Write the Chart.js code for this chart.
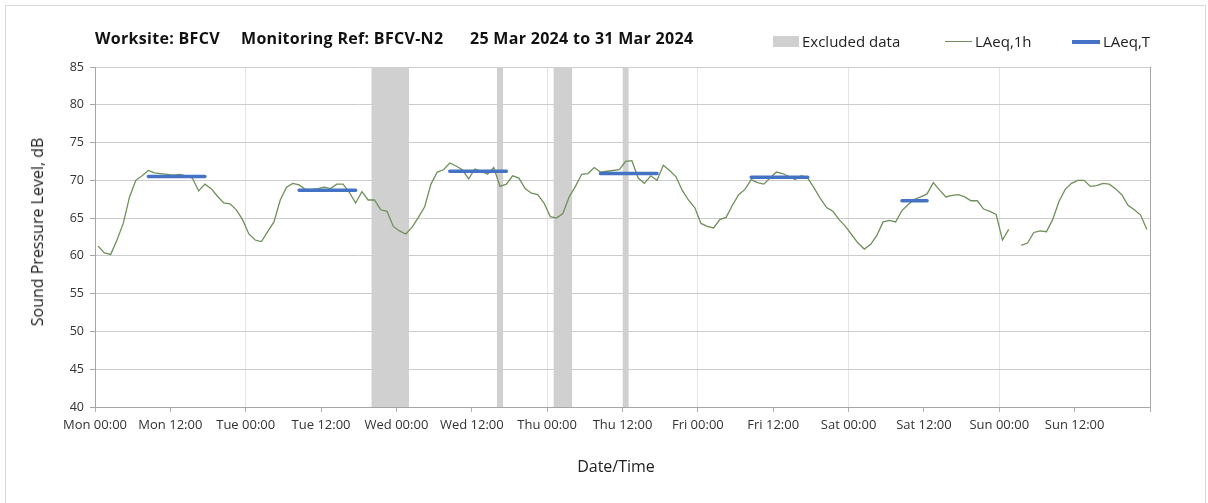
<!DOCTYPE html>
<html>
<head>
<meta charset="utf-8">
<script src="https://cdn.jsdelivr.net/npm/chart.js@4/dist/chart.umd.min.js"></script>
<style>
  html, body { margin: 0; padding: 0; background: #fff; }
  body { width: 1208px; height: 503px; position: relative; overflow: hidden; font-family: "Open Sans", sans-serif; }
  #frame { position: absolute; left: 5px; top: 5px; width: 1201px; height: 520px; border: 1px solid #d9d9d9; box-sizing: border-box; }
  #wrap { position: absolute; left: 0; top: 0; width: 1208px; height: 503px; }
  .t { position: absolute; top: 27px; font-weight: bold; font-size: 16px; letter-spacing: 0.3px; color: #111; white-space: nowrap; }
  .lg { position: absolute; top: 31px; font-size: 15px; color: #222; white-space: nowrap; }
  .sw { position: absolute; }
  #ytitle { position: absolute; left: 37px; top: 232px; transform: translate(-50%, -50%) rotate(-90deg); font-size: 16px; color: #222; white-space: nowrap; }
  #xtitle { position: absolute; left: 616px; top: 466px; transform: translate(-50%, -50%); font-size: 16px; color: #222; white-space: nowrap; }
</style>
</head>
<body>
<div id="frame"></div>
<div id="wrap"><canvas id="c" width="1208" height="503"></canvas></div>
<div class="t" style="left:95px">Worksite: BFCV</div>
<div class="t" style="left:241px">Monitoring Ref: BFCV-N2</div>
<div class="t" style="left:470px">25 Mar 2024 to 31 Mar 2024</div>
<div class="sw" style="left:773px;top:36px;width:26px;height:11px;background:#d0d0d0"></div>
<div class="lg" style="left:802px">Excluded data</div>
<div class="sw" style="left:945px;top:41px;width:27px;height:1.3px;background:#6f8f5a"></div>
<div class="lg" style="left:975px">LAeq,1h</div>
<div class="sw" style="left:1072px;top:40px;width:28px;height:3.5px;background:#4472c4"></div>
<div class="lg" style="left:1103px">LAeq,T</div>
<div id="ytitle">Sound Pressure Level, dB</div>
<div id="xtitle">Date/Time</div>
<script>
// Tick labels every 12 hours from Mon 25 Mar 2024 00:00
const xTickLabels = ['Mon 00:00','Mon 12:00','Tue 00:00','Tue 12:00','Wed 00:00','Wed 12:00','Thu 00:00','Thu 12:00','Fri 00:00','Fri 12:00','Sat 00:00','Sat 12:00','Sun 00:00','Sun 12:00'];
const yTicks = [40,45,50,55,60,65,70,75,80,85];

// Hourly LAeq,1h (hour 0 = Mon 00:00), null = no data
const laeq1h = [
  61.3, 60.4, 60.2, 62.1, 64.3, 67.8, 70.0, 70.6, 71.3, 71.0,
  70.9, 70.8, 70.7, 70.8, 70.6, 70.3, 68.6, 69.5, 68.9, 67.9,
  67.0, 66.9, 66.1, 64.8, 62.9, 62.1, 61.9, 63.2, 64.5, 67.4,
  69.1, 69.6, 69.4, 68.8, 68.8, 68.9, 69.1, 68.9, 69.5, 69.5,
  68.4, 67.0, 68.5, 67.4, 67.4, 66.1, 65.9, 63.9, 63.3, 62.9,
  63.8, 65.1, 66.5, 69.5, 71.1, 71.4, 72.3, 71.9, 71.4, 70.2,
  71.5, 71.2, 70.8, 71.7, 69.2, 69.5, 70.6, 70.3, 68.9, 68.3,
  68.1, 67.0, 65.2, 65.0, 65.6, 67.8, 69.2, 70.8, 70.9, 71.7,
  71.1, 71.2, 71.3, 71.4, 72.5, 72.6, 70.3, 69.6, 70.6, 70.0,
  72.0, 71.3, 70.5, 68.7, 67.4, 66.4, 64.3, 63.9, 63.7, 64.8,
  65.1, 66.7, 68.1, 68.8, 70.1, 69.7, 69.5, 70.3, 71.1, 70.9,
  70.5, 70.1, 70.6, 70.3, 69.0, 67.6, 66.4, 65.9, 64.8, 63.9,
  62.8, 61.7, 60.9, 61.5, 62.7, 64.5, 64.7, 64.5, 66.0, 66.8,
  67.5, 67.8, 68.2, 69.7, 68.7, 67.8, 68.0, 68.1, 67.8, 67.3,
  67.3, 66.2, 65.9, 65.5, 62.1, 63.5, null, 61.4, 61.7, 63.1,
  63.3, 63.2, 64.8, 67.2, 68.8, 69.6, 70.0, 70.0, 69.2, 69.3,
  69.6, 69.5, 68.9, 68.1, 66.7, 66.1, 65.4, 63.5
];

// LAeq,T periods (first and last hour index) and levels
const periodStart = [8, 32, 56, 80, 104, 128];
const periodEnd   = [17, 41, 65, 89, 113, 132];
const periodLevel = [70.5, 68.7, 71.2, 70.9, 70.4, 67.3];

// Excluded data periods (hour index start/end)
const exclStart = [44, 64, 73, 84];
const exclEnd   = [50, 65, 76, 85];

const Y_MIN = 40, Y_MAX = 85, HOURS = 168;

const lineData = laeq1h.map((v, i) => ({ x: i + 0.5, y: v }));
const tData = [];
periodStart.forEach((s, k) => {
  tData.push({ x: s + 0.5, y: periodLevel[k] });
  tData.push({ x: periodEnd[k] + 0.5, y: periodLevel[k] });
  tData.push({ x: periodEnd[k] + 0.75, y: null });
});

const datasets = [
  { label: 'LAeq,1h', data: lineData, borderColor: '#6f8f5a', borderWidth: 1.3, pointRadius: 0, spanGaps: false, tension: 0, order: 1 },
  { label: 'LAeq,T', data: tData, borderColor: '#4472c4', borderWidth: 3.5, pointRadius: 0, spanGaps: false, borderCapStyle: 'round', order: 0 }
];
exclStart.forEach((s, k) => {
  datasets.push({
    label: 'Excluded data', data: [{ x: s, y: Y_MAX }, { x: exclEnd[k], y: Y_MAX }],
    borderWidth: 0, borderColor: 'rgba(0,0,0,0)', backgroundColor: '#d0d0d0', fill: 'start', pointRadius: 0, order: 5
  });
});

const chart = new Chart(document.getElementById('c'), {
  type: 'line',
  data: { datasets },
  options: {
    responsive: false,
    animation: false,
    events: [],
    layout: { padding: { left: 0, top: 67, right: 58, bottom: 0 } },
    plugins: { legend: { display: false }, title: { display: false }, tooltip: { enabled: false } },
    scales: {
      x: {
        type: 'linear', min: 0, max: HOURS,
        afterFit: (s) => { s.height = 96; },
        afterBuildTicks: (s) => { s.ticks = Array.from({ length: HOURS / 12 + 1 }, (_, i) => ({ value: i * 12 })); },
        ticks: {
          autoSkip: false, maxRotation: 0, minRotation: 0, padding: 5,
          color: '#333', font: { family: 'Open Sans', size: 13 },
          callback: (v) => xTickLabels[v / 12] ?? ''
        },
        grid: {
          color: (ctx) => {
            const v = ctx.tick ? ctx.tick.value : 0;
            if (v === HOURS) return '#a6a6a6';
            return v % 24 === 0 ? '#e4e4e4' : 'rgba(0,0,0,0)';
          },
          tickColor: '#b0b0b0', tickLength: 5, lineWidth: 1
        },
        border: { color: '#a6a6a6', width: 1 }
      },
      y: {
        min: Y_MIN, max: Y_MAX,
        afterFit: (s) => { s.width = 95; },
        afterBuildTicks: (s) => { s.ticks = yTicks.map(v => ({ value: v })); },
        ticks: { color: '#333', font: { family: 'Open Sans', size: 12.5 }, padding: 6 },
        grid: { color: '#cbcbcb', tickColor: '#a6a6a6', tickLength: 5, lineWidth: 1 },
        border: { color: '#a6a6a6', width: 1 }
      }
    }
  }
});
if (document.fonts && document.fonts.load) {
  document.fonts.load('12px "Open Sans"').then(() => chart.update());
}
</script>
</body>
</html>
